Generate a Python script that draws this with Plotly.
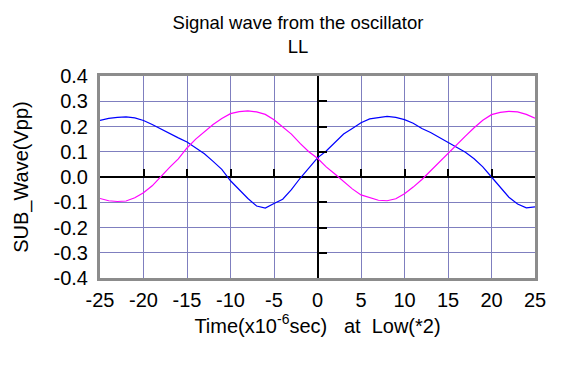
import plotly.graph_objects as go

time_us = list(range(-25, 26))
blue_wave = [0.224, 0.232, 0.236, 0.238, 0.234, 0.224, 0.208, 0.190, 0.170, 0.155,
             0.139, 0.116, 0.092, 0.062, 0.030, -0.015, -0.052, -0.085, -0.115, -0.123,
             -0.105, -0.088, -0.050, -0.005, 0.035, 0.076, 0.103, 0.138, 0.170, 0.192,
             0.215, 0.230, 0.236, 0.240, 0.236, 0.227, 0.213, 0.192, 0.176, 0.157,
             0.139, 0.118, 0.098, 0.072, 0.040, 0.000, -0.042, -0.080, -0.107, -0.122,
             -0.118]
magenta_wave = [-0.085, -0.094, -0.097, -0.095, -0.082, -0.062, -0.035, 0.003, 0.038, 0.072,
                0.115, 0.150, 0.180, 0.208, 0.232, 0.251, 0.259, 0.262, 0.258, 0.248,
                0.227, 0.200, 0.170, 0.133, 0.100, 0.074, 0.040, 0.012, -0.018, -0.047,
                -0.071, -0.083, -0.092, -0.094, -0.086, -0.066, -0.040, -0.010, 0.025, 0.060,
                0.096, 0.130, 0.162, 0.195, 0.225, 0.247, 0.256, 0.260, 0.258, 0.248,
                0.233]

x_tickvals = [-25, -20, -15, -10, -5, 0, 5, 10, 15, 20, 25]
x_ticktext = ["-25", "-20", "-15", "-10", "-5", "0", "5", "10", "15", "20", "25"]
y_tickvals = [0.4, 0.3, 0.2, 0.1, 0.0, -0.1, -0.2, -0.3, -0.4]
y_ticktext = ["0.4", "0.3", "0.2", "0.1", "0.0", "-0.1", "-0.2", "-0.3", "-0.4"]

FONT = "Arial, Liberation Sans, sans-serif"
GRID = "#7f7fbf"
BORDER = "#8c8c8c"

fig = go.Figure()
fig.add_trace(go.Scatter(x=time_us, y=blue_wave, mode="lines",
                         line=dict(color="#0000ff", width=1.2), showlegend=False))
fig.add_trace(go.Scatter(x=time_us, y=magenta_wave, mode="lines",
                         line=dict(color="#ff00ff", width=1.2), showlegend=False))
# invisible trace so the overlay (tick-only) axes exist
fig.add_trace(go.Scatter(x=[None], y=[None], xaxis="x2", yaxis="y2",
                         showlegend=False, hoverinfo="skip"))

fig.update_layout(
    width=584, height=365,
    paper_bgcolor="white", plot_bgcolor="white",
    margin=dict(l=90, r=57, t=68, b=95),
    font=dict(family=FONT, color="black"),
    title=dict(text="Signal wave from the oscillator<br>LL",
               x=290 / 584, xanchor="center", xref="container",
               y=0.942, yanchor="top", yref="container",
               font=dict(size=18.5, family=FONT, color="black")),
    xaxis=dict(range=[-25, 25], tickvals=x_tickvals, ticktext=x_ticktext,
               showgrid=True, gridcolor=GRID, gridwidth=1,
               zeroline=True, zerolinecolor="black", zerolinewidth=1.5,
               showline=True, mirror=True, linecolor=BORDER, linewidth=3,
               ticks="", ticklabelstandoff=2,
               tickfont=dict(size=20, family=FONT, color="black"),
               title=dict(text="Time(x10<sup>-6</sup>sec)\u00a0\u00a0\u00a0at\u00a0\u00a0Low(*2)",
                          font=dict(size=20, family=FONT, color="black"), standoff=9)),
    yaxis=dict(range=[-0.4, 0.4], tickvals=y_tickvals, ticktext=y_ticktext,
               showgrid=True, gridcolor=GRID, gridwidth=1,
               zeroline=True, zerolinecolor="black", zerolinewidth=1.5,
               showline=True, mirror=True, linecolor=BORDER, linewidth=3,
               ticks="", ticklabelstandoff=5,
               tickfont=dict(size=20, family=FONT, color="black"),
               title=dict(text="SUB_Wave(Vpp)",
                          font=dict(size=20, family=FONT, color="black"), standoff=20)),
    xaxis2=dict(range=[-25, 25], overlaying="x", anchor="free", position=0.5,
                side="bottom", dtick=5, tick0=0, ticks="inside", ticklen=8,
                tickwidth=1.5, tickcolor="black", showticklabels=False,
                showgrid=False, zeroline=False, showline=False),
    yaxis2=dict(range=[-0.4, 0.4], overlaying="y", anchor="free", position=0.5,
                side="left", dtick=0.1, tick0=0, ticks="inside", ticklen=8,
                tickwidth=1.5, tickcolor="black", showticklabels=False,
                showgrid=False, zeroline=False, showline=False),
)

fig.write_html("out.html")
